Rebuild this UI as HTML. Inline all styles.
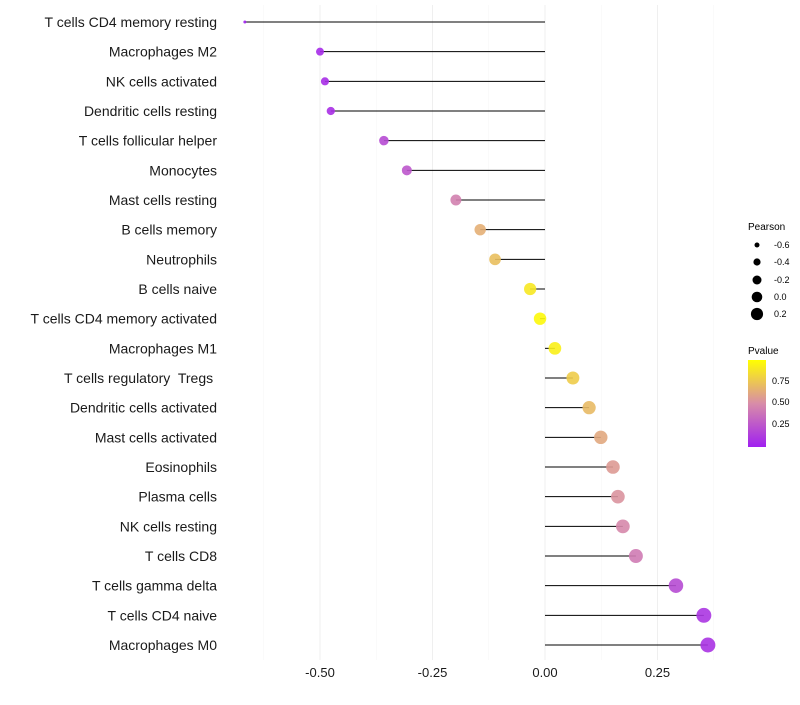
<!DOCTYPE html>
<html><head><meta charset="utf-8"><style>
body{margin:0;background:#fff;font-family:"Liberation Sans",sans-serif}
text{white-space:pre}
</style></head><body>
<svg id="c" width="800" height="700" xmlns="http://www.w3.org/2000/svg">
<defs><linearGradient id="pg" x1="0" y1="1" x2="0" y2="0">
<stop offset="0" stop-color="#a020f0"/><stop offset="0.5" stop-color="#d88ca8"/><stop offset="1" stop-color="#ffff00"/></linearGradient></defs>
<g id="grid"></g><g id="marks"></g><g id="labels"></g>
<g font-size="9" fill="#000">
<text x="748" y="230" font-size="10">Pearson</text>
<circle cx="757" cy="245" r="2.5"/><text x="774" y="248">-0.6</text>
<circle cx="757" cy="262" r="3.6"/><text x="774" y="265">-0.4</text>
<circle cx="757" cy="280" r="4.5"/><text x="774" y="283">-0.2</text>
<circle cx="757" cy="297" r="5.3"/><text x="774" y="300">0.0</text>
<circle cx="757" cy="314" r="6.1"/><text x="774" y="317">0.2</text>
</g>
<g font-size="9">
<text x="748" y="354" font-size="10">Pvalue</text>
<rect x="748" y="360" width="18" height="87" fill="url(#pg)"/>
<text x="772" y="384">0.75</text><text x="772" y="405">0.50</text><text x="772" y="427">0.25</text>
</g>
</svg>
<script>
const cells=["T cells CD4 memory resting","Macrophages M2","NK cells activated","Dendritic cells resting","T cells follicular helper","Monocytes","Mast cells resting","B cells memory","Neutrophils","B cells naive","T cells CD4 memory activated","Macrophages M1","T cells regulatory  Tregs ","Dendritic cells activated","Mast cells activated","Eosinophils","Plasma cells","NK cells resting","T cells CD8","T cells gamma delta","T cells CD4 naive","Macrophages M0"];
const pearson=[-0.667,-0.5,-0.489,-0.476,-0.358,-0.307,-0.198,-0.144,-0.111,-0.033,-0.011,0.022,0.062,0.098,0.124,0.151,0.162,0.173,0.202,0.291,0.353,0.362];
const pvalue=[0.01,0.05,0.06,0.07,0.2,0.25,0.45,0.65,0.72,0.9,0.97,0.93,0.78,0.7,0.62,0.56,0.53,0.48,0.42,0.2,0.1,0.09];
const xTicks=[-0.5,-0.25,0,0.25];
const xTickLabels=["-0.50","-0.25","0.00","0.25"];
const ns="http://www.w3.org/2000/svg";
const X=v=>545+v*450, Y=i=>22+i*29.667;
function mk(t,a,p){const e=document.createElementNS(ns,t);for(const k in a)e.setAttribute(k,a[k]);p.appendChild(e);return e;}
function lerp(a,b,t){return a.map((v,i)=>Math.round(v+(b[i]-v)*t));}
function col(p){const c0=[160,32,240],c1=[216,140,168],c2=[255,255,0];const c=p<0.5?lerp(c0,c1,p/0.5):lerp(c1,c2,(p-0.5)/0.5);return`rgb(${c})`;}
function rad(v){return v<-0.5?1.5+(v+0.667)*15:Math.sqrt(16+(v+0.5)*46.5);}
const g=document.getElementById('grid'),m=document.getElementById('marks'),L=document.getElementById('labels');
[-0.625,-0.375,-0.125,0.125,0.375].forEach(v=>{const l=mk('line',{x1:X(v),x2:X(v),y1:5,y2:660,stroke:'#f6f6f6','stroke-width':0.5},g);

});
xTicks.forEach((v,i)=>{const l=mk('line',{x1:X(v),x2:X(v),y1:5,y2:660,stroke:'#efefef','stroke-width':1},g);


const t=mk('text',{x:X(v),y:677,'text-anchor':'middle','font-size':13,fill:'#1a1a1a'},L);t.textContent=xTickLabels[i];

});
cells.forEach((c,i)=>{const y=Y(i);
const l=mk('line',{x1:X(0),x2:X(pearson[i]),y1:y,y2:y,stroke:'#000','stroke-width':1},m);


const d=mk('circle',{cx:X(pearson[i]),cy:y,r:rad(pearson[i]),fill:col(pvalue[i]),'fill-opacity':0.9},m);


const t=mk('text',{x:217,y:y+5,'text-anchor':'end','font-size':14,fill:'#1a1a1a'},L);t.textContent=c;

});
</script>
</body></html>
